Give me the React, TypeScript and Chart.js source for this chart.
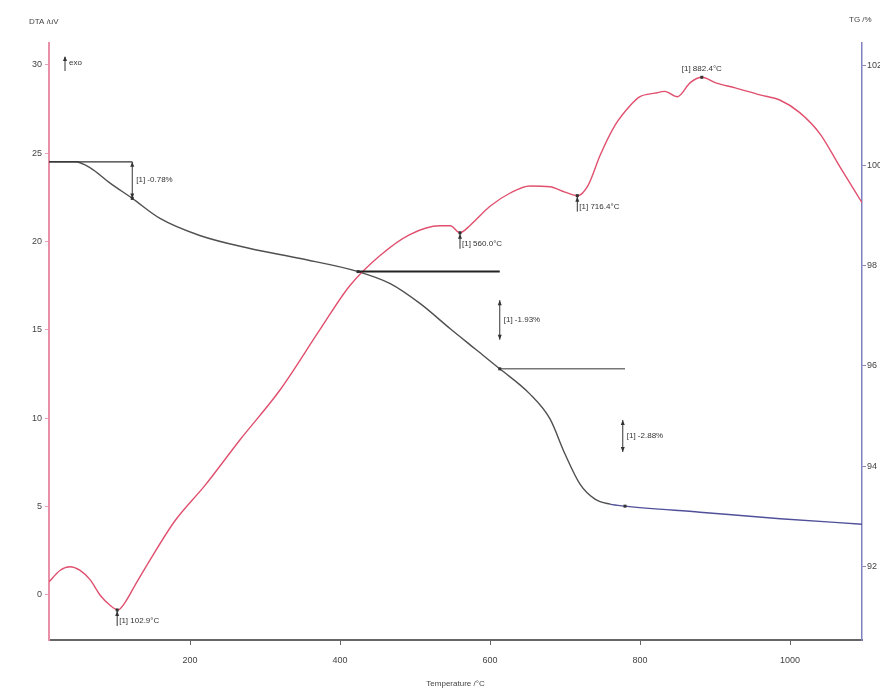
import { useEffect, useRef } from 'react';
import { Chart, registerables } from 'chart.js';

Chart.register(...registerables);

// DTA curve (uV) vs temperature (°C)
const dtaT = [12, 27, 40, 53, 67, 80, 93, 104, 113, 127, 147, 180, 220, 267, 320, 373, 413, 453, 493, 533, 547, 560, 573, 600, 627, 653, 680, 700, 717, 731, 747, 767, 787, 800, 820, 833, 850, 867, 883, 900, 927, 960, 987, 1013, 1040, 1067, 1096];
const dtaV = [0.74, 1.4, 1.6, 1.4, 0.85, 0, -0.57, -0.85, -0.45, 0.57, 2.0, 4.2, 6.2, 8.8, 11.6, 15.0, 17.5, 19.2, 20.4, 20.9, 20.9, 20.5, 20.9, 22.0, 22.75, 23.15, 23.1, 22.8, 22.6, 23.2, 24.9, 26.6, 27.7, 28.2, 28.4, 28.5, 28.2, 29.0, 29.3, 29.0, 28.7, 28.3, 28.0, 27.3, 26.1, 24.2, 22.2];

// TG curve (%) vs temperature (°C)
const tgT = [12, 47, 67, 93, 123, 160, 213, 280, 347, 424, 467, 507, 547, 580, 613, 653, 680, 700, 720, 740, 760, 780, 880, 987, 1096];
const tgV = [100.07, 100.07, 99.95, 99.65, 99.34, 98.94, 98.6, 98.34, 98.14, 97.88, 97.64, 97.24, 96.74, 96.34, 95.94, 95.44, 94.94, 94.24, 93.64, 93.34, 93.24, 93.2, 93.08, 92.95, 92.84];

const xTicks = [200, 400, 600, 800, 1000];
const dtaTicks = [0, 5, 10, 15, 20, 25, 30];
const tgTicks = [92, 94, 96, 98, 100, 102];

// annotations (data coordinates)
const stepLines = [
  { t0: 12, t1: 123, tg: 100.07, color: '#333333', w: 1.2 },
  { t0: 424, t1: 613, tg: 97.88, color: '#222222', w: 2 },
  { t0: 613, t1: 780, tg: 95.94, color: '#777777', w: 1.5 },
];
const stepArrows = [
  { t: 123, tg0: 100.07, tg1: 99.34, label: '[1] -0.78%' },
  { t: 613, tg0: 97.31, tg1: 96.52, label: '[1] -1.93%' },
  { t: 777, tg0: 94.92, tg1: 94.28, label: '[1] -2.88%' },
];
const tgMarks = [
  { t: 123, tg: 99.34 },
  { t: 424, tg: 97.88 },
  { t: 613, tg: 95.94 },
  { t: 780, tg: 93.2 },
];
const peaks = [
  { t: 102.9, v: -0.85, label: '[1] 102.9°C', above: false },
  { t: 560, v: 20.5, label: '[1] 560.0°C', above: false },
  { t: 716.4, v: 22.6, label: '[1] 716.4°C', above: false },
  { t: 882.4, v: 29.3, label: '[1] 882.4°C', above: true },
];

const FONT = '8px "Liberation Sans", Arial, sans-serif';

function arrowHead(ctx: CanvasRenderingContext2D, x: number, y: number, dir: number) {
  ctx.beginPath();
  ctx.moveTo(x, y);
  ctx.lineTo(x - 2, y + 5 * dir);
  ctx.lineTo(x + 2, y + 5 * dir);
  ctx.closePath();
  ctx.fill();
}

const annotPlugin = {
  id: 'annots',
  afterDatasetsDraw(chart: any) {
    const { ctx, scales } = chart;
    const x = scales.x, yL = scales.yL, yR = scales.yR;
    ctx.save();
    ctx.font = FONT;
    ctx.fillStyle = '#333';
    ctx.strokeStyle = '#333';

    stepLines.forEach((s) => {
      ctx.strokeStyle = s.color;
      ctx.lineWidth = s.w;
      const py = yR.getPixelForValue(s.tg);
      ctx.beginPath();
      ctx.moveTo(x.getPixelForValue(s.t0), py);
      ctx.lineTo(x.getPixelForValue(s.t1), py);
      ctx.stroke();
    });

    ctx.strokeStyle = '#333';
    ctx.fillStyle = '#333';
    ctx.lineWidth = 1;
    stepArrows.forEach((a) => {
      const px = x.getPixelForValue(a.t);
      const p0 = yR.getPixelForValue(a.tg0);
      const p1 = yR.getPixelForValue(a.tg1);
      ctx.beginPath();
      ctx.moveTo(px, p0);
      ctx.lineTo(px, p1);
      ctx.stroke();
      arrowHead(ctx, px, p0, 1);
      arrowHead(ctx, px, p1, -1);
      ctx.textAlign = 'left';
      ctx.textBaseline = 'middle';
      ctx.fillText(a.label, px + 4, (p0 + p1) / 2);
    });

    tgMarks.forEach((m) => {
      const px = x.getPixelForValue(m.t);
      const py = yR.getPixelForValue(m.tg);
      ctx.fillRect(px - 1.5, py - 1.5, 3, 3);
    });

    peaks.forEach((p) => {
      const px = x.getPixelForValue(p.t);
      const py = yL.getPixelForValue(p.v);
      ctx.fillRect(px - 1.5, py - 1.5, 3, 3);
      if (p.above) {
        ctx.textAlign = 'center';
        ctx.textBaseline = 'bottom';
        ctx.fillText(p.label, px, py - 4);
      } else {
        ctx.beginPath();
        ctx.moveTo(px, py + 1);
        ctx.lineTo(px, py + 16);
        ctx.stroke();
        arrowHead(ctx, px, py + 1, 1);
        ctx.textAlign = 'left';
        ctx.textBaseline = 'middle';
        ctx.fillText(p.label, px + 2, py + 11);
      }
    });

    // exo marker
    ctx.beginPath();
    ctx.moveTo(65, 71);
    ctx.lineTo(65, 57);
    ctx.stroke();
    arrowHead(ctx, 65, 56, 1);
    ctx.textAlign = 'left';
    ctx.textBaseline = 'middle';
    ctx.fillText('exo', 69, 63);

    // axis titles
    ctx.fillStyle = '#444';
    ctx.textBaseline = 'middle';
    ctx.textAlign = 'left';
    ctx.fillText('DTA /uV', 29, 22);
    ctx.fillText('TG /%', 849, 20);
    ctx.textAlign = 'center';
    ctx.fillText('Temperature /°C', (chart.chartArea.left + chart.chartArea.right) / 2, 684);
    ctx.restore();
  },
};

export default function App() {
  const ref = useRef<HTMLCanvasElement>(null);
  useEffect(() => {
    document.body.style.margin = '0';
    const tickFont = { size: 9, family: '"Liberation Sans", Arial, sans-serif' };
    const chart = new Chart(ref.current!, {
      type: 'line',
      data: {
        datasets: [
          {
            label: 'DTA',
            data: dtaT.map((t, i) => ({ x: t, y: dtaV[i] })),
            yAxisID: 'yL',
            borderColor: '#e0506e',
            borderWidth: 1.4,
            pointRadius: 0,
            cubicInterpolationMode: 'monotone',
          },
          {
            label: 'TG',
            data: tgT.map((t, i) => ({ x: t, y: tgV[i] })),
            yAxisID: 'yR',
            borderColor: '#505050',
            borderWidth: 1.4,
            pointRadius: 0,
            cubicInterpolationMode: 'monotone',
            segment: {
              borderColor: (c: any) => (c.p0.parsed.x >= 760 ? '#50509a' : '#505050'),
            },
          },
        ],
      },
      options: {
        responsive: false,
        animation: false,
        layout: { padding: { top: 43, left: 0, right: 0, bottom: 0 } },
        plugins: { legend: { display: false }, tooltip: { enabled: false } },
        scales: {
          x: {
            type: 'linear',
            min: 12,
            max: 1096,
            afterBuildTicks: (a: any) => {
              a.ticks = xTicks.map((v) => ({ value: v }));
            },
            afterFit: (a: any) => {
              a.height = 53;
            },
            grid: { drawOnChartArea: false, drawTicks: true, tickLength: 5, color: '#666' },
            border: { color: '#666', width: 2 },
            ticks: {
              font: tickFont,
              color: '#444',
              padding: 10,
              maxRotation: 0,
              callback: (v: any) => String(v),
            },
          },
          yL: {
            type: 'linear',
            position: 'left',
            min: -2.55,
            max: 31.24,
            afterBuildTicks: (a: any) => {
              a.ticks = dtaTicks.map((v) => ({ value: v }));
            },
            afterFit: (a: any) => {
              a.width = 49;
            },
            grid: { drawOnChartArea: false, drawTicks: true, tickLength: 4, color: '#e8a0b4' },
            border: { color: '#e890a8', width: 2 },
            ticks: { font: tickFont, color: '#444', padding: 3 },
          },
          yR: {
            type: 'linear',
            position: 'right',
            min: 90.53,
            max: 102.44,
            afterBuildTicks: (a: any) => {
              a.ticks = tgTicks.map((v) => ({ value: v }));
            },
            afterFit: (a: any) => {
              a.width = 18;
            },
            grid: { drawOnChartArea: false, drawTicks: true, tickLength: 4, color: '#8888c8' },
            border: { color: '#8080c0', width: 1.5 },
            ticks: { font: tickFont, color: '#444', padding: 1 },
          },
        },
      },
      plugins: [annotPlugin],
    } as any);
    return () => chart.destroy();
  }, []);
  return (
    <div style={{ width: 880, height: 693, background: '#fff' }}>
      <canvas ref={ref} width={880} height={693} style={{ display: 'block' }} />
    </div>
  );
}
